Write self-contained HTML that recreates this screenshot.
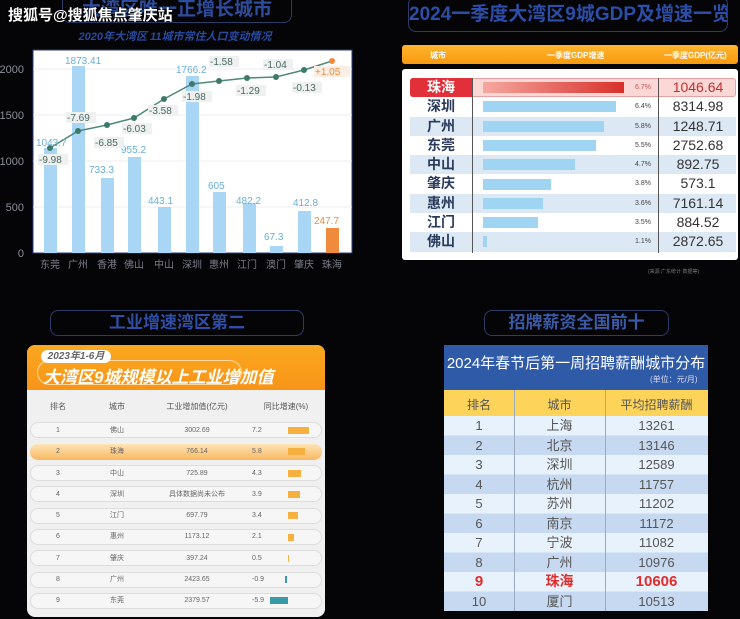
<!DOCTYPE html>
<html><head><meta charset="utf-8">
<style>
body{margin:0;width:740px;height:619px;background:#050507;overflow:hidden;position:relative;font-family:"Liberation Sans","Noto Sans CJK SC",sans-serif}
.a{position:absolute}
.c{position:absolute;text-align:center;white-space:nowrap}
.tbox{position:absolute;border:1.5px solid #2c3c66;border-radius:8px;color:#3a5cb0;font-weight:bold;text-align:center;white-space:nowrap;overflow:hidden}
</style></head><body>

<!-- TOP LEFT -->
<div class="tbox" style="left:62px;top:-6px;width:228px;height:27px;line-height:30px;font-size:19px;color:#2e4c9c">大湾区唯一正增长城市</div>
<div class="c" style="left:60px;top:28px;width:230px;font-size:11px;font-style:italic;font-weight:bold;color:#2a4aa0">2020年大湾区 11城市常住人口变动情况</div>
<div class="a" style="left:8px;top:4px;font-size:15px;font-weight:bold;color:#fff;text-shadow:0 0 2px #000">搜狐号@搜狐焦点肇庆站</div>

<svg class="a" style="left:0;top:0" width="370" height="280">
<rect x="33" y="50" width="319" height="203" fill="#fff" stroke="#2c3c80" stroke-width="1"/>
<g stroke="#e6e8ee" stroke-width="0.7">
<line x1="33" y1="69" x2="352" y2="69"/><line x1="33" y1="115" x2="352" y2="115"/><line x1="33" y1="161" x2="352" y2="161"/><line x1="33" y1="207" x2="352" y2="207"/>
</g>
<g font-size="11" fill="#8a8f99" text-anchor="end">
<text x="24" y="73">2000</text><text x="24" y="119">1500</text><text x="24" y="165">1000</text><text x="24" y="211">500</text><text x="24" y="257">0</text>
</g>
<g fill="#a9d6f5">
<rect x="44" y="148" width="13" height="105"/>
<rect x="72" y="66" width="13" height="187"/>
<rect x="101" y="178" width="13" height="75"/>
<rect x="128" y="157" width="13" height="96"/>
<rect x="158" y="207" width="13" height="46"/>
<rect x="186" y="76" width="13" height="177"/>
<rect x="213" y="192" width="13" height="61"/>
<rect x="243" y="203" width="13" height="50"/>
<rect x="270" y="246" width="13" height="7"/>
<rect x="298" y="211" width="13" height="42"/>
</g>
<rect x="326" y="228" width="13" height="25" fill="#f08a3c"/>
<polyline points="50,148 78,131 107,125 134,118 164,99 192,84 219,81 247,78 276,77 304,70 332,61" fill="none" stroke="#4c8a7a" stroke-width="1.5"/>
<g fill="#3d7a6a">
<circle cx="50" cy="148" r="3"/><circle cx="78" cy="131" r="3"/><circle cx="107" cy="125" r="3"/><circle cx="134" cy="118" r="3"/><circle cx="164" cy="99" r="3"/><circle cx="192" cy="84" r="3"/><circle cx="219" cy="81" r="3"/><circle cx="247" cy="78" r="3"/><circle cx="276" cy="77" r="3"/><circle cx="304" cy="70" r="3"/>
</g>
<circle cx="332" cy="61" r="3" fill="#f08a3c"/>
<g font-size="10" fill="#6aaed8">
<text x="36" y="146">1043.7</text><text x="65" y="64">1873.41</text><text x="89" y="173">733.3</text><text x="121" y="153">955.2</text><text x="148" y="204">443.1</text><text x="176" y="73">1766.2</text><text x="208" y="189">605</text><text x="236" y="204">482.2</text><text x="264" y="240">67.3</text><text x="293" y="206">412.8</text>
</g>
<text x="314" y="224" font-size="10" fill="#f08a3c">247.7</text>
<g font-size="10" fill="#4a6a62">
<rect x="38" y="154" width="30" height="11" fill="#eef1f0"/><text x="39" y="163">-9.98</text>
<rect x="66" y="112" width="30" height="11" fill="#eef1f0"/><text x="67" y="121">-7.69</text>
<rect x="94" y="137" width="30" height="11" fill="#eef1f0"/><text x="95" y="146">-6.85</text>
<rect x="122" y="123" width="30" height="11" fill="#eef1f0"/><text x="123" y="132">-6.03</text>
<rect x="148" y="105" width="30" height="11" fill="#eef1f0"/><text x="149" y="114">-3.58</text>
<rect x="182" y="91" width="30" height="11" fill="#eef1f0"/><text x="183" y="100">-1.98</text>
<rect x="209" y="56" width="30" height="11" fill="#eef1f0"/><text x="210" y="65">-1.58</text>
<rect x="236" y="85" width="30" height="11" fill="#eef1f0"/><text x="237" y="94">-1.29</text>
<rect x="263" y="59" width="30" height="11" fill="#eef1f0"/><text x="264" y="68">-1.04</text>
<rect x="292" y="82" width="30" height="11" fill="#eef1f0"/><text x="293" y="91">-0.13</text>
</g>
<rect x="314" y="66" width="36" height="11" fill="#fbeee4"/><text x="315" y="75" font-size="10" fill="#f08a3c">+1.05</text>
<g font-size="10" fill="#7a7f88" text-anchor="middle">
<text x="50" y="268">东莞</text><text x="78" y="268">广州</text><text x="107" y="268">香港</text><text x="134" y="268">佛山</text><text x="164" y="268">中山</text><text x="192" y="268">深圳</text><text x="219" y="268">惠州</text><text x="247" y="268">江门</text><text x="276" y="268">澳门</text><text x="304" y="268">肇庆</text><text x="332" y="268">珠海</text>
</g>
</svg>

<!-- TOP RIGHT -->
<div class="tbox" style="left:408px;top:-4px;width:318px;height:34px;line-height:36px;font-size:19px;color:#2c4ea8">2024一季度大湾区9城GDP及增速一览</div>
<div class="a" style="left:402px;top:45px;width:336px;height:19px;background:linear-gradient(#ffb52e,#f79a10);border-radius:3px;font-size:8px;color:#fff;font-weight:bold">
<span class="a" style="left:28px;top:5px">城市</span><span class="a" style="left:145px;top:5px">一季度GDP增速</span><span class="a" style="left:262px;top:5px">一季度GDP(亿元)</span></div>
<div class="a" style="left:402px;top:69px;width:336px;height:191px;background:#fff;border-radius:3px"></div>
<div class="a" style="left:410px;top:78px;width:326px;height:175px">
<div class="a" style="left:0;top:0;width:326px;height:19px;background:#fbd8d6;border:1px solid #e9a0a0;border-radius:3px;box-sizing:border-box"></div>
<div class="a" style="left:0;top:0;width:62px;height:19px;background:#e2303a;border-radius:3px 0 0 3px;color:#fff;font-size:14px;font-weight:bold;text-align:center;line-height:19px">珠海</div>
<div class="a" style="left:0;top:38.6px;width:326px;height:19.3px;background:#dce9f5"></div>
<div class="a" style="left:0;top:77.2px;width:326px;height:19.3px;background:#dce9f5"></div>
<div class="a" style="left:0;top:115.8px;width:326px;height:19.3px;background:#dce9f5"></div>
<div class="a" style="left:0;top:154.4px;width:326px;height:19.3px;background:#dce9f5"></div>
<div class="a" style="left:62px;top:0;width:1px;height:175px;background:#555"></div>
<div class="a" style="left:248px;top:0;width:1px;height:175px;background:#555"></div>
</div>
<div class="a" style="left:410px;top:78px;font-size:14px;font-weight:bold;color:#2a3a5a;line-height:19.3px;width:62px;text-align:center"><br>深圳<br>广州<br>东莞<br>中山<br>肇庆<br>惠州<br>江门<br>佛山</div>
<div class="a" style="left:658px;top:78px;font-size:14px;color:#333;line-height:19.3px;width:80px;text-align:center"><span style="color:#c03030">1046.64</span><br>8314.98<br>1248.71<br>2752.68<br>892.75<br>573.1<br>7161.14<br>884.52<br>2872.65</div>
<div class="a" style="left:633px;top:78px;font-size:7px;color:#444;line-height:19.3px;width:20px;text-align:center"><span style="color:#d05050">6.7%</span><br>6.4%<br>5.8%<br>5.5%<br>4.7%<br>3.8%<br>3.6%<br>3.5%<br>1.1%</div>
<div class="a" style="left:483px;top:82px;width:141px;height:11px;background:linear-gradient(90deg,#f5a8a0,#d8302a)"></div>
<div class="a" style="left:483px;top:101.3px;width:133px;height:11px;background:#9fd4f3"></div>
<div class="a" style="left:483px;top:120.6px;width:121px;height:11px;background:#9fd4f3"></div>
<div class="a" style="left:483px;top:139.9px;width:113px;height:11px;background:#9fd4f3"></div>
<div class="a" style="left:483px;top:159.2px;width:92px;height:11px;background:#9fd4f3"></div>
<div class="a" style="left:483px;top:178.5px;width:68px;height:11px;background:#9fd4f3"></div>
<div class="a" style="left:483px;top:197.8px;width:60px;height:11px;background:#9fd4f3"></div>
<div class="a" style="left:483px;top:217.1px;width:55px;height:11px;background:#9fd4f3"></div>
<div class="a" style="left:483px;top:236.4px;width:4px;height:11px;background:#9fd4f3"></div>
<div class="a" style="left:648px;top:268px;font-size:5px;color:#777">(来源 广东统计 数据等)</div>

<!-- BOTTOM LEFT -->
<div class="tbox" style="left:50px;top:310px;width:252px;height:24px;line-height:24px;font-size:17px;color:#2e4ea8">工业增速湾区第二</div>
<div class="a" style="left:27px;top:345px;width:298px;height:272px;background:#f0f0f0;border-radius:8px;overflow:hidden">
<div class="a" style="left:0;top:0;width:298px;height:45px;background:linear-gradient(#fba820,#f89418)"></div>
<div class="a" style="left:10px;top:15px;width:205px;height:25px;border:1.5px solid #fcd89a;border-radius:13px;box-sizing:border-box"></div>
<div class="a" style="left:14px;top:5px;width:70px;height:13px;background:#fff;border-radius:7px;font-size:10px;font-style:italic;font-weight:bold;color:#666;text-align:center;line-height:13px">2023年1-6月</div>
<div class="a" style="left:16px;top:18px;font-size:17px;font-style:italic;font-weight:bold;color:#fff">大湾区9城规模以上工业增加值</div>
</div>
<div class="a" style="left:0;top:401px;width:370px;font-size:8px;color:#555">
<span class="c" style="left:48px;width:20px">排名</span><span class="c" style="left:107px;width:20px">城市</span><span class="c" style="left:165px;width:64px">工业增加值(亿元)</span><span class="c" style="left:258px;width:56px">同比增速(%)</span></div>
<div class="a" style="left:0;top:0">
<div class="a" style="left:30px;top:422px;width:292px;height:16px;border:1px solid #ddd;border-radius:8px;box-sizing:border-box;background:#f6f6f6"></div>
<div class="a" style="left:30px;top:444px;width:292px;height:16px;border-radius:8px;background:linear-gradient(#fde4b8,#f9b860)"></div>
<div class="a" style="left:30px;top:465px;width:292px;height:16px;border:1px solid #ddd;border-radius:8px;box-sizing:border-box;background:#f6f6f6"></div>
<div class="a" style="left:30px;top:486px;width:292px;height:16px;border:1px solid #ddd;border-radius:8px;box-sizing:border-box;background:#f6f6f6"></div>
<div class="a" style="left:30px;top:508px;width:292px;height:16px;border:1px solid #ddd;border-radius:8px;box-sizing:border-box;background:#f6f6f6"></div>
<div class="a" style="left:30px;top:529px;width:292px;height:16px;border:1px solid #ddd;border-radius:8px;box-sizing:border-box;background:#f6f6f6"></div>
<div class="a" style="left:30px;top:550px;width:292px;height:16px;border:1px solid #ddd;border-radius:8px;box-sizing:border-box;background:#f6f6f6"></div>
<div class="a" style="left:30px;top:572px;width:292px;height:16px;border:1px solid #ddd;border-radius:8px;box-sizing:border-box;background:#f6f6f6"></div>
<div class="a" style="left:30px;top:593px;width:292px;height:16px;border:1px solid #ddd;border-radius:8px;box-sizing:border-box;background:#f6f6f6"></div>
</div>
<div class="a" style="left:48px;top:420px;width:20px;font-size:7px;color:#666;line-height:21.3px;text-align:center">1<br>2<br>3<br>4<br>5<br>6<br>7<br>8<br>9</div>
<div class="a" style="left:104px;top:420px;width:26px;font-size:7px;color:#666;line-height:21.3px;text-align:center">佛山<br>珠海<br>中山<br>深圳<br>江门<br>惠州<br>肇庆<br>广州<br>东莞</div>
<div class="a" style="left:160px;top:420px;width:74px;font-size:7px;color:#666;line-height:21.3px;text-align:center">3002.69<br>766.14<br>725.89<br>具体数据尚未公布<br>697.79<br>1173.12<br>397.24<br>2423.65<br>2379.57</div>
<div class="a" style="left:252px;top:420px;width:20px;font-size:7px;color:#666;line-height:21.3px">7.2<br>5.8<br>4.3<br>3.9<br>3.4<br>2.1<br>0.5<br>-0.9<br>-5.9</div>
<div class="a" style="left:288px;top:427px;width:21px;height:7px;background:#f6b040"></div>
<div class="a" style="left:288px;top:448px;width:17px;height:7px;background:#f6b040"></div>
<div class="a" style="left:288px;top:470px;width:13px;height:7px;background:#f6b040"></div>
<div class="a" style="left:288px;top:491px;width:12px;height:7px;background:#f6b040"></div>
<div class="a" style="left:288px;top:512px;width:10px;height:7px;background:#f6b040"></div>
<div class="a" style="left:288px;top:534px;width:6px;height:7px;background:#f6b040"></div>
<div class="a" style="left:288px;top:555px;width:1px;height:7px;background:#f6b040"></div>
<div class="a" style="left:285px;top:576px;width:2px;height:7px;background:#3a9aa8"></div>
<div class="a" style="left:270px;top:597px;width:18px;height:7px;background:#3a9aa8"></div>

<!-- BOTTOM RIGHT -->
<div class="tbox" style="left:484px;top:310px;width:183px;height:24px;line-height:24px;font-size:17px;color:#3a5aa8">招牌薪资全国前十</div>
<div class="a" style="left:444px;top:345px;width:264px;height:45px;background:#2e5aa8"></div>
<div class="c" style="left:444px;top:352px;width:264px;font-size:15px;color:#fff">2024年春节后第一周招聘薪酬城市分布</div>
<div class="a" style="left:650px;top:374px;font-size:8px;color:#dde">(单位：元/月)</div>
<div class="a" style="left:444px;top:390px;width:264px;height:26px;background:#fdd35a"></div>
<div class="a" style="left:444px;top:396px;width:264px;font-size:12px;color:#555">
<span class="c" style="left:0;width:70px">排名</span><span class="c" style="left:70px;width:91px">城市</span><span class="c" style="left:161px;width:103px">平均招聘薪酬</span></div>
<div class="a" style="left:444px;top:416px;width:264px;height:195px;background:repeating-linear-gradient(#e8f2fc 0,#e8f2fc 19.5px,#c6d9f0 19.5px,#c6d9f0 39px)"></div>
<div class="a" style="left:514px;top:390px;width:1px;height:221px;background:#9aaac0"></div>
<div class="a" style="left:605px;top:390px;width:1px;height:221px;background:#9aaac0"></div>
<div class="a" style="left:444px;top:416px;width:70px;font-size:13px;color:#555;line-height:19.5px;text-align:center">1<br>2<br>3<br>4<br>5<br>6<br>7<br>8<br><b style="color:#e02c2c;font-size:15px">9</b><br>10</div>
<div class="a" style="left:514px;top:416px;width:91px;font-size:13px;color:#555;line-height:19.5px;text-align:center">上海<br>北京<br>深圳<br>杭州<br>苏州<br>南京<br>宁波<br>广州<br><b style="color:#e02c2c;font-size:14px">珠海</b><br>厦门</div>
<div class="a" style="left:605px;top:416px;width:103px;font-size:13px;color:#555;line-height:19.5px;text-align:center">13261<br>13146<br>12589<br>11757<br>11202<br>11172<br>11082<br>10976<br><b style="color:#e02c2c;font-size:15px">10606</b><br>10513</div>
</body></html>
